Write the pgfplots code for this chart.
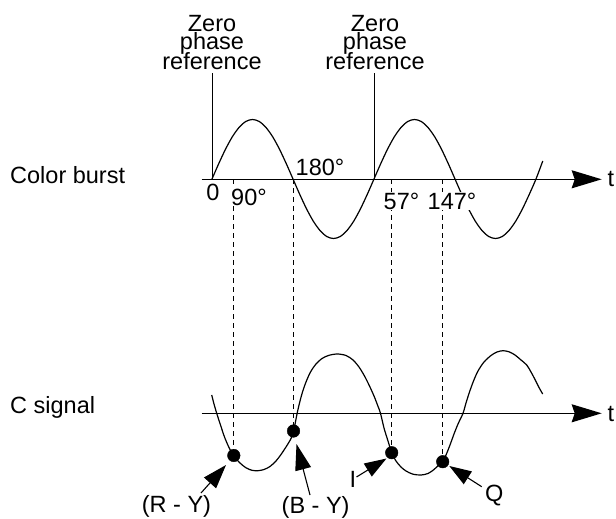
\documentclass[border=0pt]{standalone}
\usepackage{fontspec}
\setmainfont{Liberation Sans}
\usepackage{pgfplots}
\pgfplotsset{compat=1.18}
\usetikzlibrary{arrows.meta}

% burst and chroma traces (x, row from the top)
\pgfplotstableread{
x row
212 179
218.75 163.6
225.5 149.25
232.25 136.9
239 127.5
245.75 121.5
252.5 119.5
259.25 121.5
266 127.5
272.75 136.9
279.5 149.25
286.25 163.6
293 179
299.75 194.4
306.5 208.75
313.25 221.1
320 230.5
326.75 236.5
333.5 238.5
340.25 236.5
347 230.5
353.75 221.1
360.5 208.75
367.25 194.4
374 179
380.75 163.6
387.5 149.25
394.25 136.9
401 127.5
407.75 121.5
414.5 119.5
421.25 121.5
428 127.5
434.75 136.9
441.5 149.25
448.25 163.6
455 179
461.75 194.4
468.5 208.75
475.25 221.1
482 230.5
488.75 236.5
495.5 238.5
502.25 236.5
509 230.5
515.75 221.1
522.5 208.75
529.25 194.4
536 179
542.75 161
}\burst

\pgfplotstableread{
x row
211.7 395
214 404
216.7 413.3
220.5 425
224.5 437
229 447.5
233.5 455.5
240 463
246 467.8
252 470.3
258 470.7
264 469.5
270 466.5
276 461
281 454.5
285 448.5
288.5 443
291.5 437.5
293.5 431
295.3 422.8
297 414
299.5 403
302.5 392
306 382
310.5 372
316 364
322 358.5
329 355.3
337.5 354
346 355.5
353 360
359 367
364.5 376
369.5 386
374 396
377.5 405
380.5 413.3
384 428
388 441
391.7 452.7
396 461
401 467
406 471
413 474.2
421 475
428 473.5
434 469.5
439 464.8
442.7 461.7
446 455
450 445
454 434
458 424
463 413.3
466 403
469.5 392
473.5 381
478 371
484 362
491 355.5
497 352
503 350.7
509 351.8
515 355
521 360
526.7 365
531 372
535 379.5
539 387.5
542.7 394
}\csignal

\begin{document}
\begin{tikzpicture}[font=\fontsize{23.5}{19}\selectfont]
\begin{axis}[hide axis, scale only axis, width=616pt, height=519pt,
  xmin=0, xmax=616, ymin=0, ymax=519, y dir=reverse, clip=false]
\path (axis cs:0,0) rectangle (axis cs:616,519);

% waves
\addplot[black, line width=1.2pt, smooth] table[x=x, y=row] {\burst};
\addplot[black, line width=1.2pt, smooth] table[x=x, y=row] {\csignal};

% time axes
\addplot[black, line width=1.3pt, -{Stealth[length=30pt, width=18pt, inset=3pt]}]
  coordinates {(201.7,179.3) (601.7,179.3)};
\addplot[black, line width=1.3pt, -{Stealth[length=30pt, width=18pt, inset=3pt]}]
  coordinates {(201.7,413.3) (601.7,413.3)};

% zero phase reference lines
\addplot[black, line width=1pt] coordinates {(212,73.3) (212,179.3)};
\addplot[black, line width=1pt] coordinates {(374.3,73.3) (374.3,179.3)};

% dashed projections
\addplot[black, line width=1.1pt, dash pattern=on 5pt off 4pt] coordinates {(233.8,179.3) (233.8,455.5)};
\addplot[black, line width=1.1pt, dash pattern=on 5pt off 4pt] coordinates {(293.5,179.3) (293.5,431)};
\addplot[black, line width=1.1pt, dash pattern=on 5pt off 4pt] coordinates {(391.7,179.3) (391.7,452.7)};
\addplot[black, line width=1.1pt, dash pattern=on 5pt off 4pt] coordinates {(442.7,179.3) (442.7,461.7)};

% sample points
\addplot[only marks, mark=*, mark size=6.3pt, black]
  coordinates {(233.8,455.5) (293.5,431) (391.7,452.7) (442.7,461.7)};

% pointer arrows
\addplot[black, line width=1.1pt, -{Triangle[length=24pt, width=16pt]}] coordinates {(201,493) (226,465)};
\addplot[black, line width=1.1pt, -{Triangle[length=26pt, width=16pt]}] coordinates {(310,495) (296.5,444)};
\addplot[black, line width=1.1pt, -{Triangle[length=22pt, width=15pt]}] coordinates {(356.5,477) (386.5,458.5)};
\addplot[black, line width=1.1pt, -{Triangle[length=22pt, width=15pt]}] coordinates {(481.7,486.7) (449.3,466)};

% labels
\node[anchor=base, inner sep=0pt] at (axis cs:212,31.7) {Zero};
\node[anchor=base, inner sep=0pt] at (axis cs:212,50) {phase};
\node[anchor=base, inner sep=0pt] at (axis cs:212,69.3) {reference};
\node[anchor=base, inner sep=0pt] at (axis cs:375,31.7) {Zero};
\node[anchor=base, inner sep=0pt] at (axis cs:375,50) {phase};
\node[anchor=base, inner sep=0pt] at (axis cs:375,69.3) {reference};

\node[anchor=base west, inner sep=0pt] at (axis cs:10,183.3) {Color burst};
\node[anchor=base west, inner sep=0pt] at (axis cs:10,413) {C signal};
\node[anchor=base west, inner sep=0pt] at (axis cs:607.5,186.7) {t};
\node[anchor=base west, inner sep=0pt] at (axis cs:607.5,421) {t};

\node[anchor=base, inner sep=0.5pt, fill=white] at (axis cs:213,200) {0};
\node[anchor=base west, inner sep=0.5pt, fill=white] at (axis cs:230.5,205) {90°};
\node[anchor=base west, inner sep=0.5pt, fill=white] at (axis cs:295,175) {180°};
\node[anchor=base west, inner sep=0.5pt, fill=white] at (axis cs:383,209) {57°};
\node[anchor=base west, inner sep=0.5pt, fill=white] at (axis cs:427,209) {147°};

\node[anchor=base west, inner sep=0pt] at (axis cs:141.7,512.5) {(R - Y)};
\node[anchor=base west, inner sep=0pt] at (axis cs:281.5,513) {(B - Y)};
\node[anchor=base west, inner sep=0pt] at (axis cs:349.5,487) {I};
\node[anchor=base west, inner sep=0pt] at (axis cs:485,501.7) {Q};
\end{axis}
\end{tikzpicture}
\end{document}
